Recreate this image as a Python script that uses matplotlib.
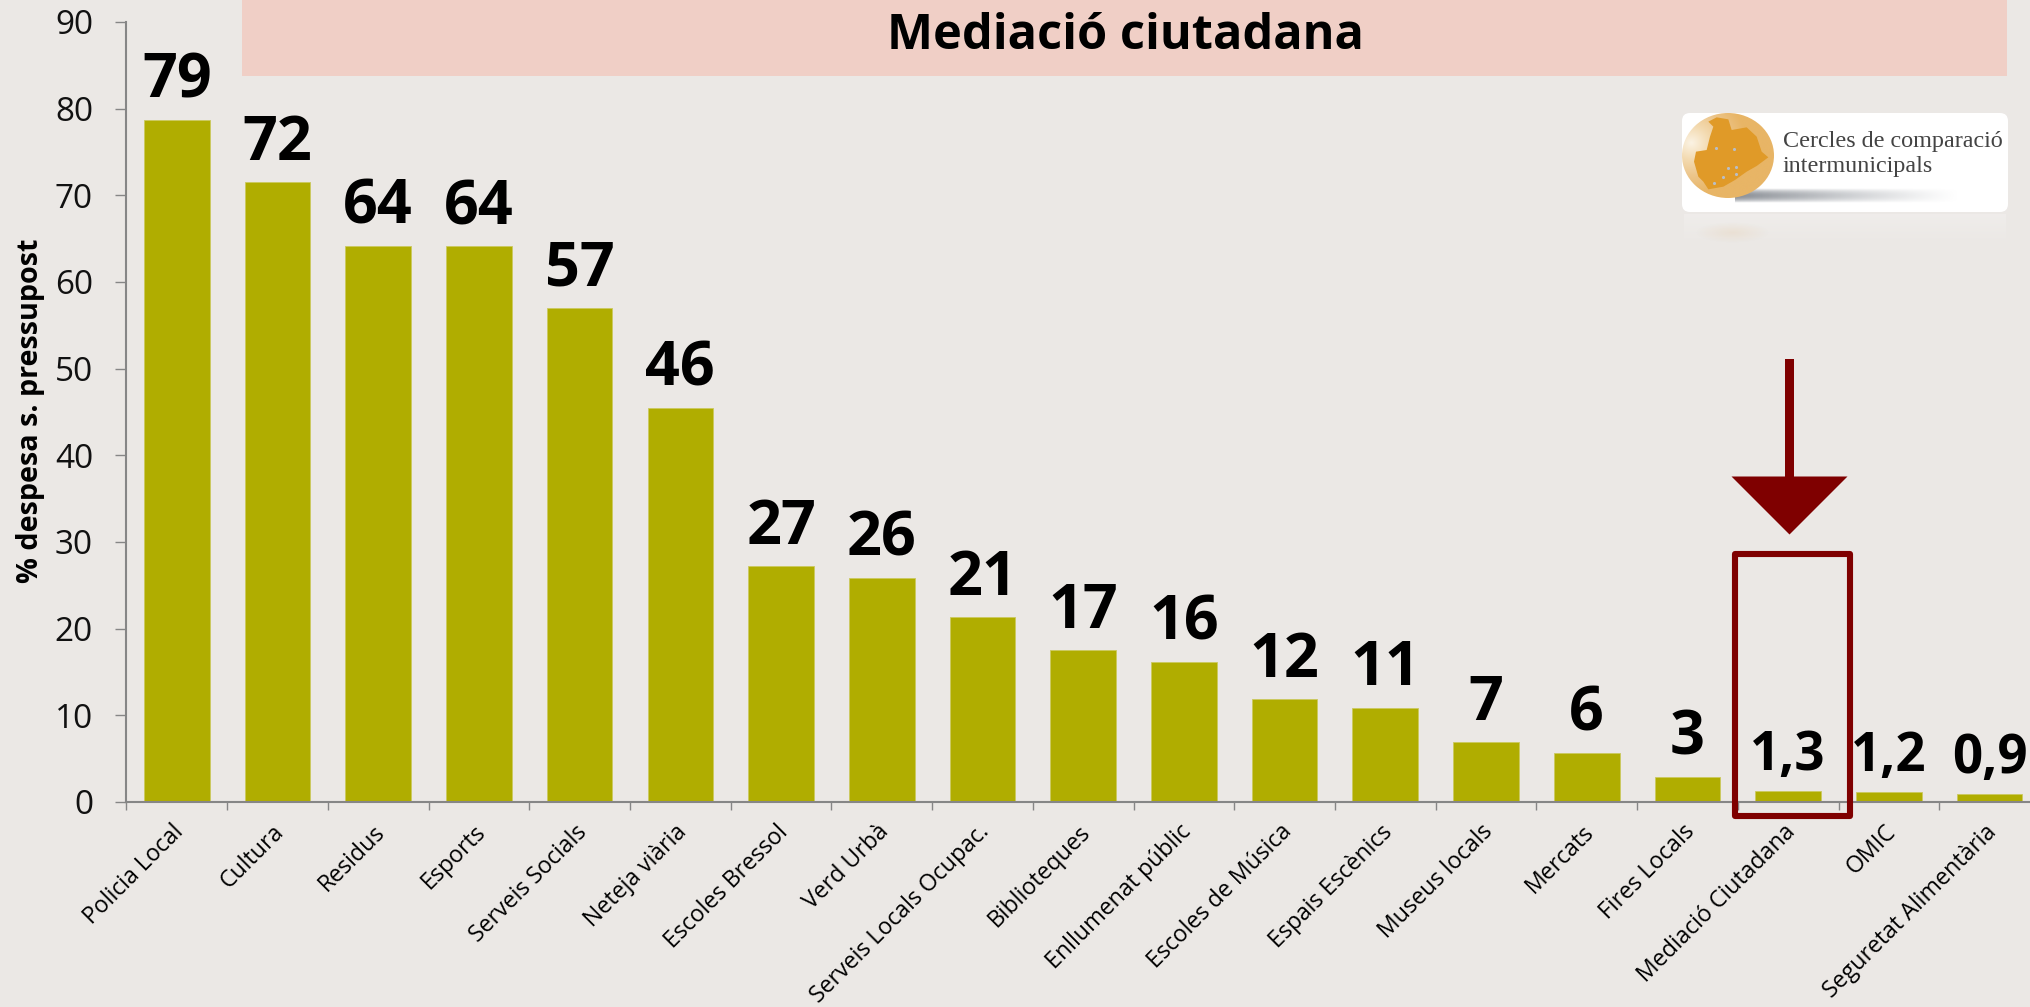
import numpy as np
import matplotlib
matplotlib.use('Agg')
import matplotlib.pyplot as plt
from matplotlib.patches import Rectangle, FancyBboxPatch, Polygon, Ellipse
from matplotlib.colors import LinearSegmentedColormap

plt.rcParams['font.family'] = ['Open Sans', 'DejaVu Sans']

# Data
categories = ['Policia Local', 'Cultura', 'Residus', 'Esports', 'Serveis Socials',
              'Neteja viària', 'Escoles Bressol', 'Verd Urbà', 'Serveis Locals Ocupac.',
              'Biblioteques', 'Enllumenat públic', 'Escoles de Música', 'Espais Escènics',
              'Museus locals', 'Mercats', 'Fires Locals', 'Mediació Ciutadana', 'OMIC',
              'Seguretat Alimentària']
values = [78.7, 71.5, 64.2, 64.1, 57.0, 45.5, 27.2, 25.9, 21.3, 17.5, 16.2, 11.9,
          10.9, 6.9, 5.7, 2.9, 1.3, 1.15, 0.9]
value_labels = ['79', '72', '64', '64', '57', '46', '27', '26', '21', '17', '16', '12',
                '11', '7', '6', '3', '1,3', '1,2', '0,9']
y_ticks = [0, 10, 20, 30, 40, 50, 60, 70, 80, 90]

W, H = 2031, 1007
bg = '#EBE8E5'
axis_grey = '#868686'
dark_red = '#7F0000'

fig = plt.figure(figsize=(W/100, H/100), dpi=100, facecolor=bg)

# the x axis runs a little past the right edge of the picture
slot = 100.71
left, bottom, top = 126.45, 802, 22
ax = fig.add_axes([left/W, (H-bottom)/H, 19*slot/W, (bottom-top)/H], facecolor='none')

x = np.arange(len(categories))
ax.bar(x, values, width=0.652, color='#B0AD00', edgecolor='#CBC95E', linewidth=0.6)
ax.set_xlim(-0.5, 18.5)
ax.set_ylim(0, 90)

for i in range(len(values)):
    # decimals are set smaller so that they fit the slot
    if ',' in value_labels[i]:
        size, off = 38, 15
    else:
        size, off = 44, 16
    ax.annotate(value_labels[i], (x[i], values[i]), xytext=(0, off), textcoords='offset points',
                ha='center', va='baseline', fontsize=size, fontweight='bold', color='black',
                annotation_clip=False)

ax.spines['top'].set_visible(False)
ax.spines['right'].set_visible(False)
ax.spines['left'].set_color(axis_grey)
ax.spines['bottom'].set_color(axis_grey)
ax.spines['left'].set_linewidth(1.5)
ax.spines['bottom'].set_linewidth(1.5)

ax.set_yticks(y_ticks)
ax.tick_params(axis='y', length=8, width=1, color=axis_grey, labelsize=24, pad=16, labelcolor='#111111')

# ticks sit between the bars, labels under the bars
ax.set_xticks(np.arange(-0.5, 19, 1))
ax.set_xticklabels([])
ax.set_xticks(x, minor=True)
ax.set_xticklabels(categories, minor=True, rotation=45, ha='right', rotation_mode='anchor', fontsize=16.7)
ax.tick_params(axis='x', which='major', length=6, width=1, color=axis_grey)
ax.tick_params(axis='x', which='minor', length=0, pad=13)
for lab in ax.get_xticklabels(minor=True):
    lab.set_transform(lab.get_transform() + matplotlib.transforms.ScaledTranslation(-5/100, 0, fig.dpi_scale_trans))

fig.text(31/W, 1-411/H, '% despesa s. pressupost', rotation=90, ha='center', va='center',
         fontsize=20.7, fontweight='bold', color='black')

# Overlay in pixel coordinates for the banner, arrow, box and logo
ov = fig.add_axes([0, 0, 1, 1], facecolor='none')
ov.set_axis_off()

ov.add_patch(Rectangle((242, 0), 1765, 76, facecolor='#F0CFC6', edgecolor='none'))
ov.text(1125, 49, 'Mediació ciutadana', ha='center', va='baseline', fontsize=35.1, fontweight='bold', color='black')

# arrow
ov.add_patch(Rectangle((1785, 358.5), 9, 120, facecolor=dark_red, edgecolor='none'))
ov.add_patch(Polygon([(1731.5, 476.5), (1847.5, 476.5), (1789.5, 534.5)], facecolor=dark_red, edgecolor='none'))
# box round the highlighted bar
ov.add_patch(Rectangle((1735, 554), 115, 262, fill=False, edgecolor=dark_red, linewidth=4.4, joinstyle='round'))

# Logo
def zx(v):
    return 1600 + v/3
def zy(v):
    return 80 + v/3

# faint reflection under the logo
fade = np.zeros((40, 2, 4))
fade[:, :, :3] = 1
fade[:, :, 3] = np.linspace(0.22, 0, 40)[:, None]
ov.imshow(fade, extent=(1684, 2006, 245, 214), aspect='auto', zorder=1)
ref = np.linspace(-1, 1, 80)
rx, ry = np.meshgrid(ref, ref)
orange_glow = np.zeros((80, 80, 4))
orange_glow[:, :, :3] = matplotlib.colors.to_rgb('#E0B070')
orange_glow[:, :, 3] = np.clip(1-np.hypot(rx, ry), 0, 1)*0.16
ov.imshow(orange_glow, extent=(1695, 1770, 243, 222), aspect='auto', zorder=1.1)

ov.add_patch(FancyBboxPatch((1688, 119), 314, 87, boxstyle='round,pad=6,rounding_size=8',
                            facecolor='white', edgecolor='none', zorder=2))

# grey shadow under the globe
sx = np.linspace(0, 1, 200)
sy = np.linspace(-1, 1, 30)
gx, gy = np.meshgrid(sx, sy)
shadow = np.zeros((30, 200, 4))
shadow[:, :, :3] = matplotlib.colors.to_rgb('#8A8F96')
shadow[:, :, 3] = (1-gx)**1.2*np.clip(1-gy**2, 0, 1)
ov.imshow(shadow, extent=(1735, 1960, 203, 188), aspect='auto', zorder=2.1)

# globe with radial shading
n = 200
u = np.linspace(-1, 1, n)
gu, gv = np.meshgrid(u, u)
dist = np.hypot(gu+0.8, gv+0.3)/1.2
globe_cmap = LinearSegmentedColormap.from_list('globe', ['#FBF3E4', '#F3DAB0', '#ECC488', '#E8B566'])
globe = globe_cmap(np.clip(dist, 0, 1))
im = ov.imshow(globe, extent=(1682, 1774, 198, 113), aspect='auto', zorder=2.2)
im.set_clip_path(Ellipse((1728, 155.5), 92, 85, transform=ov.transData))

map_pts = [(325, 125), (350, 112), (385, 118), (395, 150), (440, 142), (470, 170), (485, 215),
           (505, 232), (470, 258), (440, 275), (405, 300), (370, 320), (325, 328), (310, 305),
           (295, 290), (282, 245), (288, 215), (320, 210), (330, 170), (340, 140)]
ov.add_patch(Polygon([(zx(a), zy(b)) for a, b in map_pts], facecolor='#E09A28', edgecolor='none', zorder=2.3))
dots = [(347, 203), (403, 208), (385, 263), (407, 262), (369, 292), (408, 283), (342, 310)]
ov.scatter([zx(a) for a, b in dots], [zy(b) for a, b in dots], s=5, color='#B8BEC8', zorder=2.4, linewidths=0)

ov.text(1783, 147, 'Cercles de comparació', family='Liberation Serif', fontsize=17.4, color='#444444', va='baseline', zorder=3)
ov.text(1783, 172, 'intermunicipals', family='Liberation Serif', fontsize=17.4, color='#444444', va='baseline', zorder=3)

ov.set_xlim(0, W)
ov.set_ylim(H, 0)

fig.savefig('out.png', dpi=100, facecolor=bg)
